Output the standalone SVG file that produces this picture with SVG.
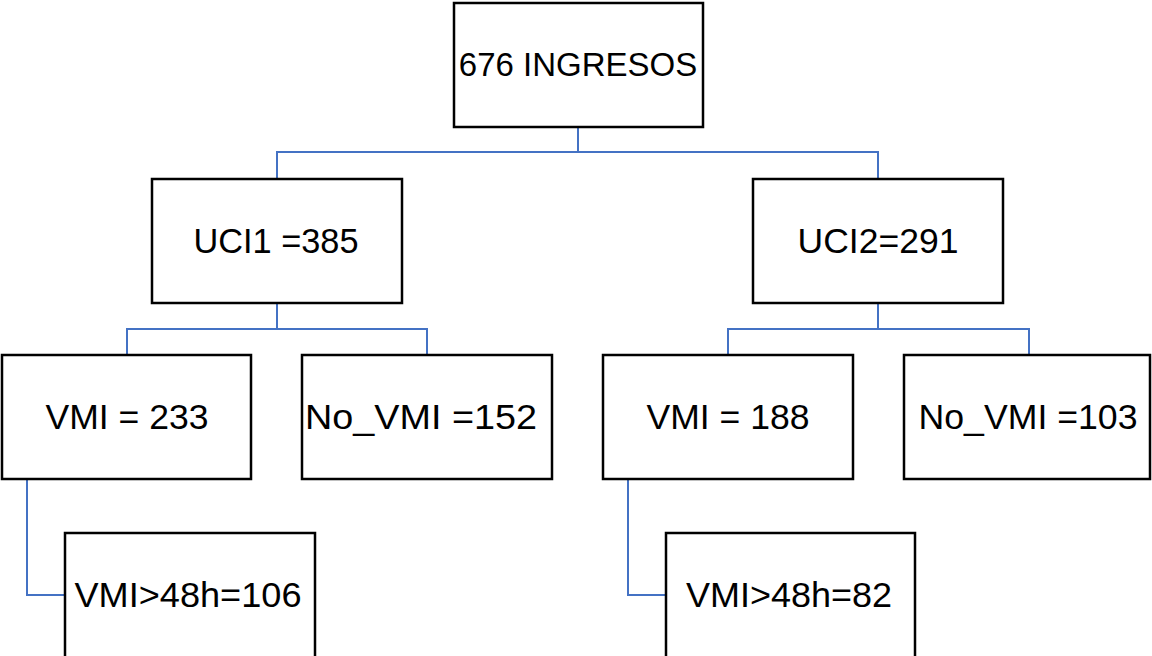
<svg xmlns="http://www.w3.org/2000/svg" width="1152" height="656" viewBox="0 0 1152 656">
<style>
.box{fill:#fff;stroke:#000;stroke-width:2.5}
.lbl{font-family:"Liberation Sans",Arial,sans-serif;font-size:35.5px;fill:#000;text-anchor:middle}
.top{font-size:33px}
.conn{fill:none;stroke:#4472C4;stroke-width:2}
</style>
<rect width="1152" height="656" fill="#fff"/>
<g id="connectors">
<polyline class="conn" points="578,127 578,152"/>
<polyline class="conn" points="277,179 277,152 878,152 878,179"/>
<polyline class="conn" points="277,303 277,329"/>
<polyline class="conn" points="127,355 127,329 427,329 427,355"/>
<polyline class="conn" points="878,303 878,329"/>
<polyline class="conn" points="728,355 728,329 1029,329 1029,355"/>
<polyline class="conn" points="27,479 27,595 65,595"/>
<polyline class="conn" points="628,479 628,595 666,595"/>
</g>
<g id="n-root"><rect class="box" x="454" y="3" width="249" height="124"/><text class="lbl top" x="578" y="76">676 INGRESOS</text></g>
<g id="n-uci1"><rect class="box" x="152" y="179" width="250" height="124"/><text class="lbl" x="276" y="253" textLength="165" lengthAdjust="spacingAndGlyphs">UCI1 =385</text></g>
<g id="n-uci2"><rect class="box" x="753" y="179" width="250" height="124"/><text class="lbl" x="878" y="253">UCI2=291</text></g>
<g id="n-vmi1"><rect class="box" x="2" y="355" width="249" height="124"/><text class="lbl" x="127" y="429" textLength="163" lengthAdjust="spacingAndGlyphs">VMI = 233</text></g>
<g id="n-novmi1"><rect class="box" x="302" y="355" width="250" height="124"/><text class="lbl" x="421" y="429" textLength="232" lengthAdjust="spacingAndGlyphs">No_VMI =152</text></g>
<g id="n-vmi2"><rect class="box" x="603" y="355" width="250" height="124"/><text class="lbl" x="728" y="429" textLength="163" lengthAdjust="spacingAndGlyphs">VMI = 188</text></g>
<g id="n-novmi2"><rect class="box" x="904" y="355" width="246" height="124"/><text class="lbl" x="1028" y="429" textLength="219" lengthAdjust="spacingAndGlyphs">No_VMI =103</text></g>
<g id="n-vmi48-1"><rect class="box" x="65" y="533" width="250" height="126"/><text class="lbl" x="188" y="607" textLength="227" lengthAdjust="spacingAndGlyphs">VMI&gt;48h=106</text></g>
<g id="n-vmi48-2"><rect class="box" x="666" y="533" width="249" height="126"/><text class="lbl" x="789" y="607" textLength="206" lengthAdjust="spacingAndGlyphs">VMI&gt;48h=82</text></g>
</svg>
